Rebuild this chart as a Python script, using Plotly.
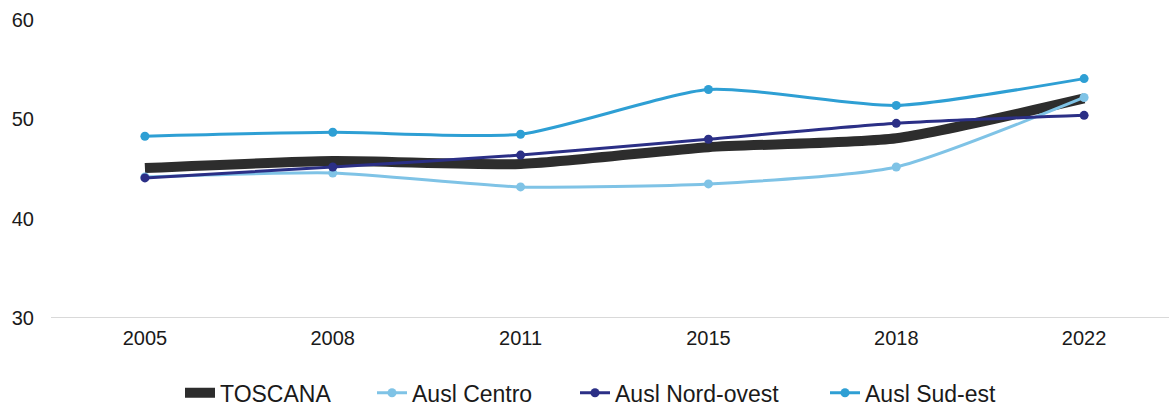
import plotly.graph_objects as go

years = ["2005", "2008", "2011", "2015", "2018", "2022"]
toscana = [45.1, 45.8, 45.5, 47.2, 48.1, 52.1]
centro = [44.2, 44.6, 43.2, 43.5, 45.2, 52.2]
nord_ovest = [44.1, 45.2, 46.4, 48.0, 49.6, 50.4]
sud_est = [48.3, 48.7, 48.5, 53.0, 51.4, 54.1]
y_ticks = [30, 40, 50, 60]

fig = go.Figure()
fig.add_trace(go.Scatter(x=years, y=toscana, name="TOSCANA", mode="lines", legend="legend",
                         line=dict(color="#2d2d2d", width=10, shape="spline", smoothing=0.6)))
fig.add_trace(go.Scatter(x=years, y=centro, name="Ausl Centro", mode="lines+markers", legend="legend2",
                         line=dict(color="#7fc3e6", width=3, shape="spline", smoothing=0.6),
                         marker=dict(size=9, color="#7fc3e6")))
fig.add_trace(go.Scatter(x=years, y=nord_ovest, name="Ausl Nord-ovest", mode="lines+markers", legend="legend3",
                         line=dict(color="#2b2f86", width=3, shape="spline", smoothing=0.6),
                         marker=dict(size=9, color="#2b2f86")))
fig.add_trace(go.Scatter(x=years, y=sud_est, name="Ausl Sud-est", mode="lines+markers", legend="legend4",
                         line=dict(color="#2e9fd4", width=3, shape="spline", smoothing=0.6),
                         marker=dict(size=9, color="#2e9fd4")))

W = 1169.0
def leg(px):
    return dict(orientation="h", xanchor="left", x=px / W, xref="container",
                yanchor="middle", y=0.03, yref="container", font=dict(size=23),
                bgcolor="rgba(0,0,0,0)")

fig.update_layout(
    width=1169, height=405,
    margin=dict(l=51, r=0, t=20, b=87, autoexpand=False),
    paper_bgcolor="white", plot_bgcolor="white",
    font=dict(family="Liberation Sans, Arial, sans-serif", size=20, color="#1a1a1a"),
    showlegend=True,
    legend=leg(180), legend2=leg(372), legend3=leg(575), legend4=leg(825),
    xaxis=dict(type="category", range=[-0.5, 5.452], showgrid=False, automargin=False,
               showline=False, zeroline=False, ticks="", ticklabelstandoff=6),
    yaxis=dict(range=[30, 60], tickvals=y_ticks, showgrid=False, zeroline=False,
               automargin=False, showline=False, ticks="", ticklabelstandoff=16),
)
fig.add_shape(type="line", xref="paper", yref="y", x0=0, x1=1, y0=30, y1=30,
              line=dict(color="#d9d9d9", width=2), layer="below")

fig.write_html("out.html", config={"displayModeBar": False},
               post_script="document.body.style.margin='0';document.body.style.padding='0';"
                           "document.documentElement.style.overflow='hidden';")
